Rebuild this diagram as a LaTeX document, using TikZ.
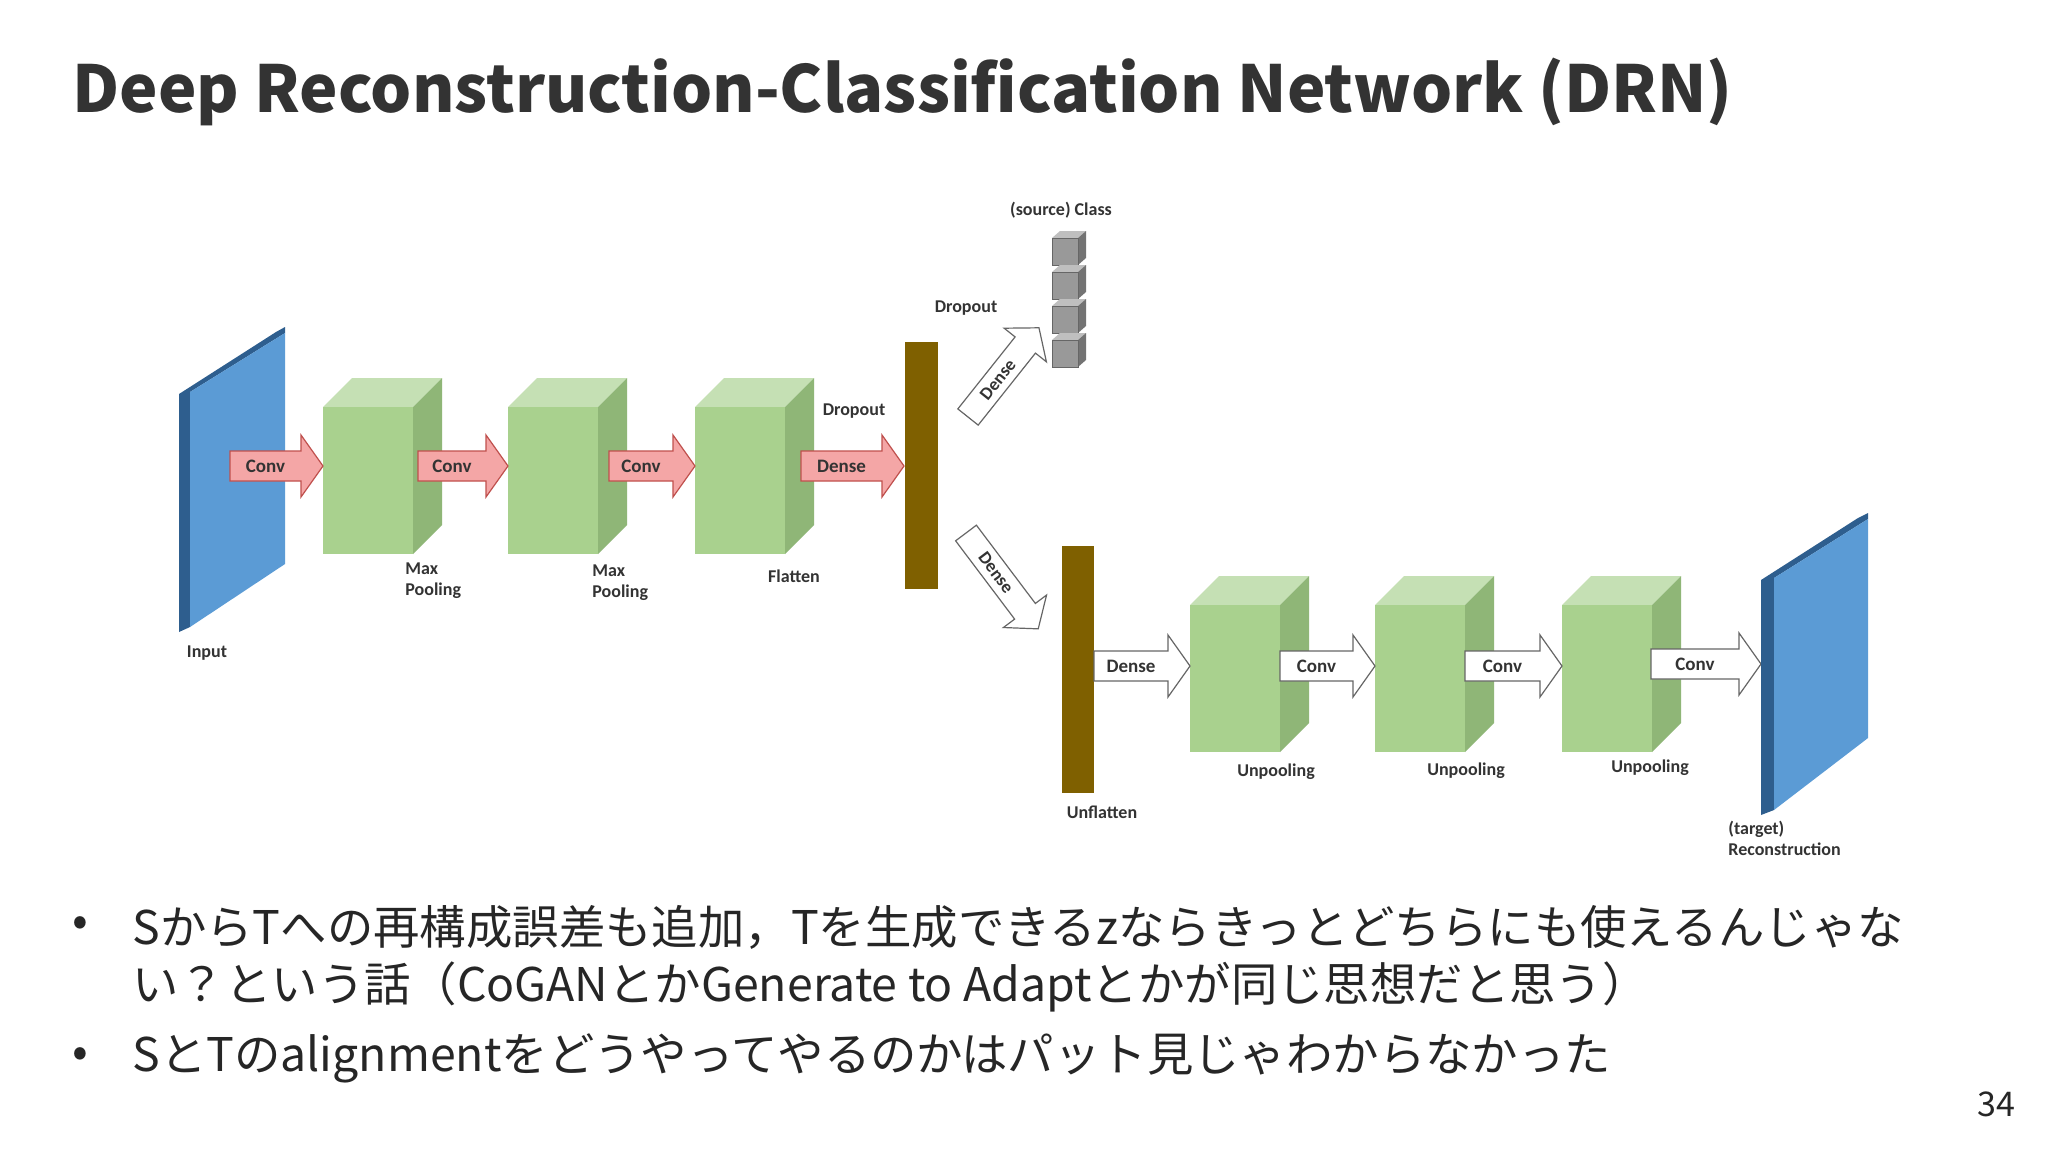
\documentclass[tikz,border=0pt]{standalone}
\usepackage{fontspec}
\setmainfont{Noto Sans CJK JP}
\newfontfamily\lab{Carlito}
\begin{document}
\begin{tikzpicture}[x=0.5pt,y=-0.5pt,
  lbl/.style={font=\lab\bfseries\fontsize{9}{10.5}\selectfont,text=black!80,inner sep=0pt,align=left},
  bullet/.style={anchor=west,inner sep=0pt,font=\fontsize{23.2}{26}\selectfont,text=black!85}]
\definecolor{gF}{HTML}{A9D18E}\definecolor{gT}{HTML}{C5E0B4}\definecolor{gS}{HTML}{8FB677}
\definecolor{bl}{HTML}{5B9BD5}\definecolor{bld}{HTML}{2E5E8E}
\definecolor{br}{HTML}{7F6000}\definecolor{rd}{HTML}{F4A6A6}\definecolor{rdd}{HTML}{C0504D}
\useasboundingbox (0,0) rectangle (2048,1152);
\fill[white] (0,0) rectangle (2048,1152);
\newcommand\gbox[4]{% x y w h
  \fill[gT] (#1,#2) -- ++(29,-29) -- ++(#3,0) -- ++(-29,29) -- cycle;
  \fill[gS] (#1+#3,#2) -- ++(29,-29) -- ++(0,#4) -- ++(-29,29) -- cycle;
  \fill[gF] (#1,#2) rectangle ++(#3,#4);}
\newcommand\farrow[6]{% x1 x2 yc fill draw label
  \filldraw[fill=#4,draw=#5,line width=0.6pt] (#1,#3-15) -- (#2-22,#3-15) -- (#2-22,#3-31) -- (#2,#3) -- (#2-22,#3+31) -- (#2-22,#3+15) -- (#1,#3+15) -- cycle;
  \node[lbl,font=\lab\bfseries\fontsize{9.5}{10}\selectfont,anchor=center] at ({(#1+#2-22)/2},#3) {#6};}
% title
\node[anchor=west,inner sep=0pt,font=\bfseries\fontsize{32.4}{36}\selectfont,text=black!80] (title) at (72,92) {Deep Reconstruction-Classification Network (DRN)};
% input plane
\fill[bld] (179,394) -- (276,332) -- (285,327) -- (285,333) -- (190,392) -- (190,627) -- (179,632) -- cycle;
\fill[bl] (190,392) -- (285,333) -- (285,564) -- (190,627) -- cycle;
\node[lbl] (in) at (207,653) {Input};
% boxes
\gbox{323}{407}{90}{147}
\gbox{508}{407}{90}{147}
\gbox{695}{407}{90}{147}
\gbox{1190}{605}{90}{147}
\gbox{1375}{605}{90}{147}
\gbox{1562}{605}{90}{147}
% red arrows
\farrow{230}{323}{466}{rd}{rdd}{Conv}
\farrow{418}{508}{466}{rd}{rdd}{Conv}
\farrow{609}{695}{466}{rd}{rdd}{Conv}
\farrow{801}{904}{466}{rd}{rdd}{Dense}
% bars
\fill[br] (905,342) rectangle (938,589);
\fill[br] (1062,546) rectangle (1094,793);
% white arrows
\farrow{1094}{1190}{666}{white}{black!60}{Dense}
\farrow{1280}{1375}{666}{white}{black!60}{Conv}
\farrow{1465}{1562}{666}{white}{black!60}{Conv}
\farrow{1651}{1761}{664}{white}{black!60}{Conv}
% target plane
\fill[bld] (1761,580) -- (1858,518) -- (1868,513) -- (1868,519) -- (1774,578) -- (1774,810) -- (1761,815) -- cycle;
\fill[bl] (1774,578) -- (1868,519) -- (1868,738) -- (1774,810) -- cycle;
% diagonal arrows
\begin{scope}[shift={(968,417)},rotate=51.5]
\filldraw[fill=white,draw=black!60,line width=0.6pt] (0,-13) -- (92,-13) -- (92,-27) -- (114,0) -- (92,27) -- (92,13) -- (0,13) -- cycle;
\node[lbl,font=\lab\bfseries\fontsize{9}{10}\selectfont,rotate=51.5] at (48,0) {Dense};
\end{scope}
\begin{scope}[shift={(966,533)},rotate=-53]
\filldraw[fill=white,draw=black!60,line width=0.6pt] (0,-13) -- (98,-13) -- (98,-27) -- (120,0) -- (98,27) -- (98,13) -- (0,13) -- cycle;
\node[lbl,font=\lab\bfseries\fontsize{9}{10}\selectfont,rotate=-53] at (50,0) {Dense};
\end{scope}
% class cubes
\foreach \i in {0,1,2,3}{
  \fill[black!25] (1052,{238+34*\i}) -- ++(8,-7) -- ++(26,0) -- ++(-8,7) -- cycle;
  \fill[black!55] (1078,{238+34*\i}) -- ++(8,-7) -- ++(0,27) -- ++(-8,7) -- cycle;
  \filldraw[fill=black!40,draw=black!60,line width=0.3pt] (1052,{238+34*\i}) rectangle ++(26,27);}
% labels
\node[lbl] at (1061,210) {(source) Class};
\node[lbl] at (966,308) {Dropout};
\node[lbl] at (854,411) {Dropout};
\node[lbl,anchor=north west] at (405,562) {Max\\Pooling};
\node[lbl,anchor=north west] at (592,564) {Max\\Pooling};
\node[lbl] at (794,576) {Flatten};
\node[lbl] at (1102,812) {Unflatten};
\node[lbl] at (1276,772) {Unpooling};
\node[lbl] at (1466,771) {Unpooling};
\node[lbl] at (1650,768) {Unpooling};
\node[lbl,anchor=north west] at (1728,821) {(target)\\Reconstruction};
% bullets
\node[bullet] (b1) at (72,927) {•};
\node[bullet] (t1) at (132,927) {SからTへの再構成誤差も追加，Tを生成できるzならきっとどちらにも使えるんじゃな};
\node[bullet] (t1b) at (132,987) {い？という話（CoGANとかGenerate to Adaptとかが同じ思想だと思う）};
\node[bullet] (b2) at (72,1058) {•};
\node[bullet] (t2) at (132,1058) {SとTのalignmentをどうやってやるのかはパット見じゃわからなかった};
\node[anchor=east,inner sep=0pt,font=\fontsize{17}{20}\selectfont,text=black!85] (pg) at (2016,1104) {34};
\end{tikzpicture}
\end{document}
